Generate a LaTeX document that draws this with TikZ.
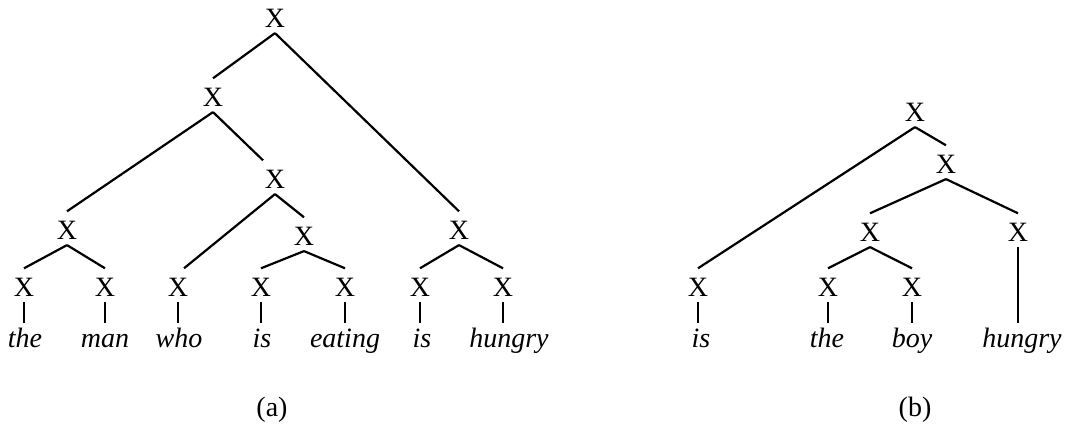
\documentclass[tikz,border=0pt]{standalone}
\usepackage{fontspec}
\setmainfont{Liberation Serif}
\begin{document}
\begin{tikzpicture}[x=0.5pt,y=-0.5pt,
  every node/.style={font=\fontsize{14pt}{16pt}\selectfont},
  xn/.style={inner sep=0pt, text height=13.8pt, text depth=2.7pt, anchor=base},
  wd/.style={inner sep=0pt, text height=12.5pt, text depth=3pt, anchor=base, font=\fontsize{14pt}{16pt}\selectfont\itshape},
  captext/.style={inner sep=0pt, anchor=base},
  br/.style={line width=1.1pt}]
\useasboundingbox (0,0) rectangle (1065,432);
% ---------- tree (a) ----------
\node[xn] (r)  at (275,27.3) {X};
\node[xn] (a1) at (213,106.3) {X};
\node[xn] (a2) at (459,239.3) {X};
\node[xn] (a3) at (67,239.3) {X};
\node[xn] (a4) at (275,188.3) {X};
\node[xn] (a5) at (304,245.3) {X};
\node[xn] (l1) at (24,296.3) {X};
\node[xn] (l2) at (105,296.3) {X};
\node[xn] (l3) at (178,296.3) {X};
\node[xn] (l4) at (261,296.3) {X};
\node[xn] (l5) at (345,296.3) {X};
\node[xn] (l6) at (420,296.3) {X};
\node[xn] (l7) at (503,296.3) {X};
\node[wd] (w1) at (25,348) {the};
\node[wd] (w2) at (105,348) {man};
\node[wd] (w3) at (179,348) {who};
\node[wd] (w4) at (262,348) {is};
\node[wd] (w5) at (345,348) {eating};
\node[wd] (w6) at (422,348) {is};
\node[wd] (w7) at (509,348) {hungry};
\draw[br] (r.south) -- (a1.north);
\draw[br] (r.south) -- (a2.north);
\draw[br] (a1.south) -- (a3.north);
\draw[br] (a1.south) -- ([xshift=-6pt]a4.north);
\draw[br] (a3.south) -- (l1.north);
\draw[br] (a3.south) -- (l2.north);
\draw[br] (a4.south) -- ([xshift=3pt]l3.north);
\draw[br] (a4.south) -- (a5.north);
\draw[br] (a5.south) -- (l4.north);
\draw[br] (a5.south) -- (l5.north);
\draw[br] (a2.south) -- (l6.north);
\draw[br] (a2.south) -- (l7.north);
\foreach \l/\w in {l1/w1,l2/w2,l3/w3,l4/w4,l5/w5,l6/w6,l7/w7}
  \draw[br] (\l.south) -- (\l.south |- \w.north);
\node[captext] (ca) at (272,416) {(a)};
% ---------- tree (b) ----------
\node[xn] (br0) at (915,121.3) {X};
\node[xn] (b1) at (946,173.3) {X};
\node[xn] (b2) at (870,241.3) {X};
\node[xn] (b3) at (1018,241.3) {X};
\node[xn] (m1) at (698,296.3) {X};
\node[xn] (m2) at (828,296.3) {X};
\node[xn] (m3) at (912,296.3) {X};
\node[wd] (v1) at (701,348) {is};
\node[wd] (v2) at (827,348) {the};
\node[wd] (v3) at (912,348) {boy};
\node[wd] (v4) at (1022,348) {hungry};
\draw[br] (br0.south) -- (m1.north);
\draw[br] (br0.south) -- (b1.north);
\draw[br] (b1.south) -- (b2.north);
\draw[br] (b1.south) -- (b3.north);
\draw[br] (b2.south) -- (m2.north);
\draw[br] (b2.south) -- (m3.north);
\foreach \l/\w in {m1/v1,m2/v2,m3/v3,b3/v4}
  \draw[br] (\l.south) -- (\l.south |- \w.north);
\node[captext] (cb) at (915,416) {(b)};
\end{tikzpicture}
\end{document}
